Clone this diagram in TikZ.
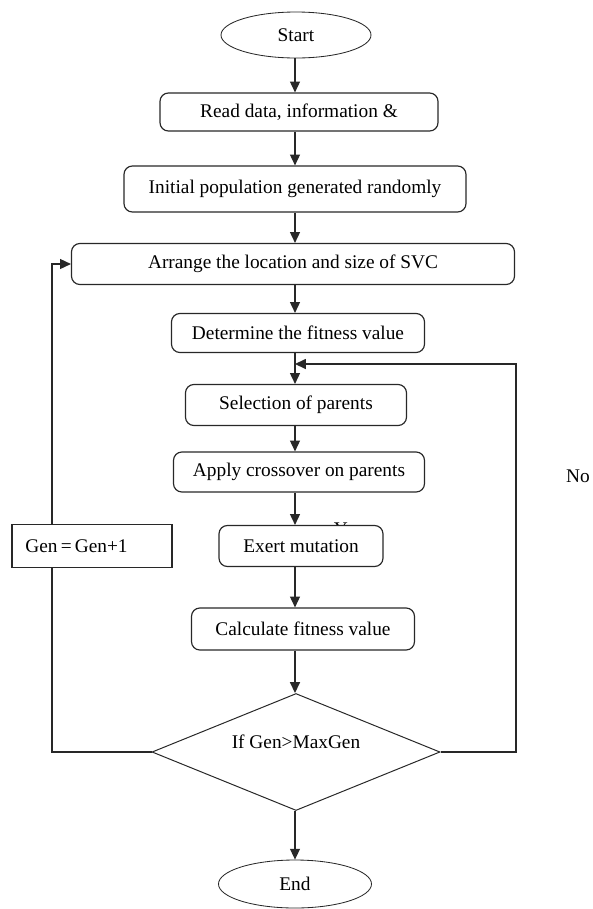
\documentclass[tikz,border=0pt]{standalone}
\usepackage{fontspec}
\setmainfont{Liberation Serif}
\usetikzlibrary{arrows.meta,shapes.geometric}
\definecolor{LineaGris}{RGB}{40,40,40}

\begin{document}
\begin{tikzpicture}[x=0.6pt,y=-0.6pt,>={Triangle[length=6.5pt,width=6pt]},
  font=\fontsize{11.6}{14}\selectfont,
  paso/.style={draw=LineaGris,line width=0.7pt,rounded corners=5pt,fill=white,
    inner sep=0pt},
  terminal/.style={draw=LineaGris,line width=0.5pt,ellipse,inner sep=0pt},
  decision/.style={draw=LineaGris,line width=0.6pt,diamond,shape aspect=2.46,inner sep=0pt},
  flecha/.style={->,draw=LineaGris,line width=0.7pt}]
  \useasboundingbox (0,0) rectangle (593,909);
  % nodos
  \node[terminal,minimum width=90pt,minimum height=27.6pt] (start) at (296,35) {Start};
  \node[paso,minimum width=166.8pt,minimum height=22.8pt] (read) at (299,112) {Read data, information \&};
  \node[paso,minimum width=205.2pt,minimum height=27.6pt] (init) at (295,189) {Initial population generated randomly};
  \node[paso,minimum width=265.8pt,minimum height=24.6pt] (arrange) at (293,264) {Arrange the location and size of SVC};
  \node[paso,minimum width=151.8pt,minimum height=23.4pt] (fit) at (298,333) {Determine the fitness value};
  \node[paso,minimum width=132.6pt,minimum height=24.6pt] (sel) at (296,405) {Selection of parents};
  \node[paso,minimum width=150.6pt,minimum height=24pt] (cross) at (299,472) {Apply crossover on parents};
  \node (yes) at (348,529) {Yes};
  \node[paso,minimum width=98.4pt,minimum height=24.6pt] (mut) at (301,546) {Exert mutation};
  \node[paso,minimum width=133.8pt,minimum height=25.2pt] (calc) at (303,629) {Calculate fitness value};
  \node[decision,minimum width=172.8pt,minimum height=70.2pt,
    label={[yshift=6pt]center:If Gen>MaxGen}] (dec) at (296,752) {};
  \node[terminal,minimum width=91.8pt,minimum height=28.8pt] (end) at (295,884) {End};
  \node[draw=LineaGris,line width=0.7pt,fill=white,minimum width=94.8pt,minimum height=25.8pt,
    text width=80pt,align=left,inner xsep=8pt,inner ysep=0pt] (gen) at (92,546) {Gen\,=\,Gen+1\\[3pt]};
  \node (no) at (578,476) {No};
  % eje y lazos
  \coordinate (spine) at (295,0);
  \coordinate (loopl) at (52,0);
  \coordinate (loopr) at (516,0);
  \coordinate (joint) at (295,364);
  \foreach \a/\b in {start/read,read/init,init/arrange,arrange/fit,fit/sel,sel/cross,cross/mut,mut/calc,calc/dec,dec/end}
    \draw[flecha] (\a.south -| spine) -- (\b.north -| spine);
  \draw[LineaGris,line width=0.7pt] (dec.west) -| (gen.south -| loopl);
  \draw[flecha] (gen.north -| loopl) |- (arrange.west);
  \draw[flecha] (dec.east) -| (loopr |- joint) -- (joint);
\end{tikzpicture}
\end{document}
